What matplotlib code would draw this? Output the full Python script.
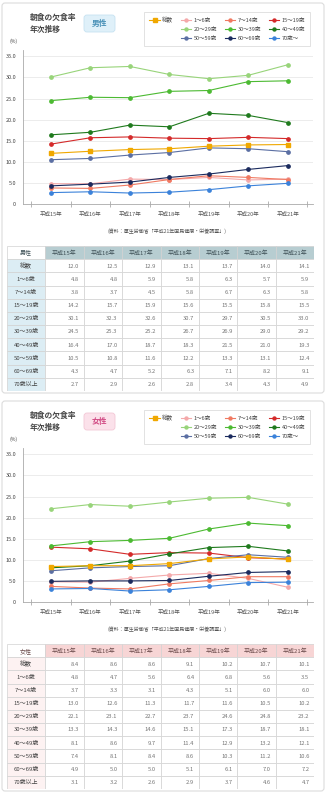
import matplotlib.pyplot as plt
from matplotlib.patches import FancyBboxPatch, Rectangle
from matplotlib.lines import Line2D
from matplotlib.transforms import IdentityTransform

plt.rcParams['font.family'] = ['Noto Sans CJK JP', 'DejaVu Sans']

W, H = 327, 800

years = ["平成15年", "平成16年", "平成17年", "平成18年", "平成19年", "平成20年", "平成21年"]
row_labels = ["総数", "1〜6歳", "7〜14歳", "15〜19歳", "20〜29歳", "30〜39歳",
              "40〜49歳", "50〜59歳", "60〜69歳", "70歳以上"]
legend_labels = ["総数", "1〜6歳", "7〜14歳", "15〜19歳", "20〜29歳", "30〜39歳",
                 "40〜49歳", "50〜59歳", "60〜69歳", "70歳〜"]
colors = ["#f0a800", "#f4a9aa", "#f07a62", "#d42a2a", "#98d47a", "#4cba32",
          "#1f7a1d", "#5b6fa3", "#1b2b5e", "#3b82da"]

# 男性 (%)
male_total = [12.0, 12.5, 12.9, 13.1, 13.7, 14.0, 14.1]
male_1_6 = [4.8, 4.8, 5.9, 5.8, 6.3, 5.7, 5.9]
male_7_14 = [3.8, 3.7, 4.5, 5.8, 6.7, 6.3, 5.8]
male_15_19 = [14.2, 15.7, 15.9, 15.6, 15.5, 15.8, 15.5]
male_20_29 = [30.1, 32.3, 32.6, 30.7, 29.7, 30.5, 33.0]
male_30_39 = [24.5, 25.3, 25.2, 26.7, 26.9, 29.0, 29.2]
male_40_49 = [16.4, 17.0, 18.7, 18.3, 21.5, 21.0, 19.3]
male_50_59 = [10.5, 10.8, 11.6, 12.2, 13.3, 13.1, 12.4]
male_60_69 = [4.3, 4.7, 5.2, 6.3, 7.1, 8.2, 9.1]
male_70 = [2.7, 2.9, 2.6, 2.8, 3.4, 4.3, 4.9]

# 女性 (%)
female_total = [8.4, 8.6, 8.6, 9.1, 10.2, 10.7, 10.1]
female_1_6 = [4.8, 4.7, 5.6, 6.4, 6.8, 5.6, 3.5]
female_7_14 = [3.7, 3.3, 3.1, 4.3, 5.1, 6.0, 6.0]
female_15_19 = [13.0, 12.6, 11.3, 11.7, 11.6, 10.5, 10.2]
female_20_29 = [22.1, 23.1, 22.7, 23.7, 24.6, 24.8, 23.2]
female_30_39 = [13.3, 14.3, 14.6, 15.1, 17.3, 18.7, 18.1]
female_40_49 = [8.1, 8.6, 9.7, 11.4, 12.9, 13.2, 12.1]
female_50_59 = [7.4, 8.1, 8.4, 8.6, 10.3, 11.2, 10.6]
female_60_69 = [4.9, 5.0, 5.0, 5.1, 6.1, 7.0, 7.2]
female_70 = [3.1, 3.2, 2.6, 2.9, 3.7, 4.6, 4.7]

male_series = [male_total, male_1_6, male_7_14, male_15_19, male_20_29,
               male_30_39, male_40_49, male_50_59, male_60_69, male_70]
female_series = [female_total, female_1_6, female_7_14, female_15_19, female_20_29,
                 female_30_39, female_40_49, female_50_59, female_60_69, female_70]

source = "(資料：厚生労働省「平成21年国民健康・栄養調査」)"


def fx(x):
    return x / W


def fy(y):
    return 1 - y / H


def draw_panel(fig, top, sex, series, badge_fc, badge_ec, badge_tc,
               head_fc, head_tc, first_fc):
    # panel frame
    fig.add_artist(FancyBboxPatch((2, H - (top + 393)), 322, 390,
                                  boxstyle="round,pad=0,rounding_size=3",
                                  transform=IdentityTransform(),
                                  fc="white", ec="#dcdcdc", lw=0.8, zorder=0))

    # title + badge
    fig.text(fx(30), fy(top + 17), "朝食の欠食率", fontsize=5.6,
             fontweight="bold", color="#444444", va="center")
    fig.text(fx(30), fy(top + 29), "年次推移", fontsize=5.6,
             fontweight="bold", color="#444444", va="center")
    fig.add_artist(FancyBboxPatch((84, H - (top + 32)), 31, 17,
                                  boxstyle="round,pad=0,rounding_size=3",
                                  transform=IdentityTransform(),
                                  fc=badge_fc, ec=badge_ec, lw=0.6, zorder=1))
    fig.text(fx(99.5), fy(top + 23.5), sex, fontsize=5.6, fontweight="bold",
             color=badge_tc, ha="center", va="center", zorder=2)

    # chart
    ax = fig.add_axes([fx(23), fy(top + 204), fx(313) - fx(23), (204 - 50) / H])
    x = list(range(len(years)))
    lines = []
    for i, (vals, c) in enumerate(zip(series, colors)):
        if i == 0:
            ln, = ax.plot(x, vals, color=c, lw=0.8, marker="s", ms=3.0, zorder=4)
        else:
            ln, = ax.plot(x, vals, color=c, lw=0.8, marker="o", ms=2.4, zorder=3)
        lines.append(ln)
    ax.set_xlim(-0.71, 6.64)
    ax.set_ylim(0, 36.5)
    ax.set_yticks(range(0, 36, 5))
    ax.set_yticklabels(["0"] + ["%.1f" % v for v in range(5, 36, 5)])
    ax.set_xticks([i - 0.5 for i in range(len(years) + 1)])
    ax.set_xticklabels([])
    ax.set_xticks(x, minor=True)
    ax.set_xticklabels(years, minor=True)
    ax.tick_params(axis="x", which="major", length=4, direction="inout",
                   color="#aaaaaa", width=0.6)
    ax.tick_params(axis="x", which="minor", length=0, pad=6,
                   labelsize=4.0, labelcolor="#555555")
    ax.tick_params(axis="y", length=0, pad=5, labelsize=4.0, labelcolor="#444444")
    for s in ["top", "right"]:
        ax.spines[s].set_visible(False)
    for s in ["left", "bottom"]:
        ax.spines[s].set_color("#aaaaaa")
        ax.spines[s].set_linewidth(0.6)
    ax.yaxis.grid(True, color="#e9e9e9", lw=0.6)
    ax.set_axisbelow(True)
    fig.text(fx(14), fy(top + 41), "(%)", fontsize=3.6, color="#444444",
             ha="center", va="center")

    # legend (4 columns, first column only 総数)
    blank = Line2D([], [], alpha=0)
    order = [0, None, None, 1, 4, 7, 2, 5, 8, 3, 6, 9]
    handles = [lines[i] if i is not None else blank for i in order]
    labels = [legend_labels[i] if i is not None else "" for i in order]
    leg = fig.legend(handles, labels, ncol=4, loc="upper right",
                     bbox_to_anchor=(fx(313), fy(top + 9)), frameon=True,
                     fancybox=False, edgecolor="#dddddd", framealpha=1,
                     fontsize=4.0, handlelength=1.9, handletextpad=0.4,
                     columnspacing=1.4, labelspacing=0.7, borderpad=0.95,
                     markerscale=0.9)
    leg.get_frame().set_linewidth(0.6)
    for t in leg.get_texts():
        t.set_color("#444444")

    fig.text(fx(167), fy(top + 231), source, fontsize=3.6, color="#555555",
             ha="center", va="center")

    # table
    tab = fig.add_axes([fx(7), fy(top + 391), fx(314) - fx(7), (391 - 246) / H])
    tab.set_xlim(0, 8)
    tab.set_ylim(11, 0)
    tab.axis("off")
    for c in range(8):
        fc = "white" if c == 0 else head_fc
        tab.add_patch(Rectangle((c, 0), 1, 1, fc=fc, ec="#d2d2d2", lw=0.5))
        txt = sex if c == 0 else years[c - 1]
        tab.text(c + 0.5, 0.52, txt, fontsize=4.3, color=head_tc,
                 ha="center", va="center")
    for r, (lab, vals) in enumerate(zip(row_labels, series), start=1):
        tab.add_patch(Rectangle((0, r), 1, 1, fc=first_fc, ec="#d2d2d2", lw=0.5))
        tab.text(0.5, r + 0.52, lab, fontsize=4.3, color="#444444",
                 ha="center", va="center")
        for c, v in enumerate(vals, start=1):
            tab.add_patch(Rectangle((c, r), 1, 1, fc="white", ec="#d2d2d2", lw=0.5))
            tab.text(c + 0.88, r + 0.52, "%.1f" % v, fontsize=4.2,
                     color="#777777", ha="right", va="center")


fig = plt.figure(figsize=(W / 100, H / 100), dpi=100)
fig.patch.set_facecolor("white")

draw_panel(fig, 0, "男性", male_series, "#dff0f9", "#c6e2f1", "#4b92b8",
           "#b7cdd1", "#3f5157", "#dcedf4")
draw_panel(fig, 398, "女性", female_series, "#fbe1ea", "#f3c7d6", "#d24d86",
           "#f7d5d5", "#6a4a4a", "#fdf2f2")

fig.savefig("out.png", dpi=100)
